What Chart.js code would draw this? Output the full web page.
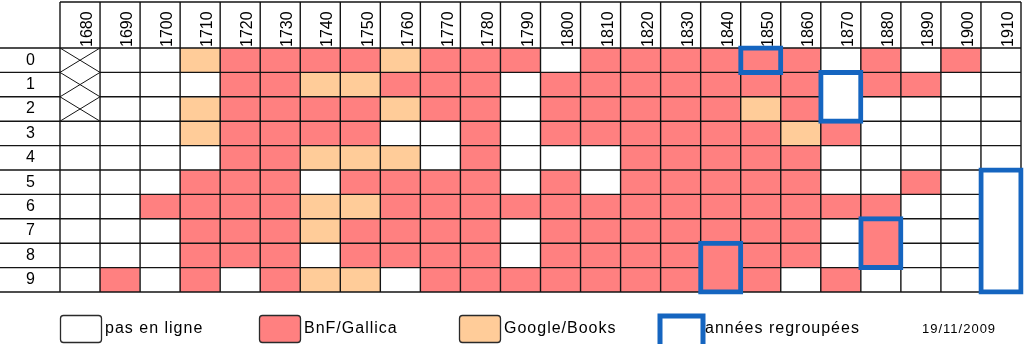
<!DOCTYPE html>
<html>
<head>
<meta charset="utf-8">
<script src="https://cdn.jsdelivr.net/npm/chart.js@4.4.1/dist/chart.umd.min.js"></script>
<style>
  html, body { margin: 0; padding: 0; background: #ffffff; }
  #wrap { width: 1024px; height: 344px; position: relative; }
</style>
</head>
<body>
<div id="wrap"><canvas id="grid"></canvas></div>
<script>
// Decades (columns) and the year digit inside each decade (rows)
const decades = ['1680','1690','1700','1710','1720','1730','1740','1750','1760','1770','1780','1790',
                 '1800','1810','1820','1830','1840','1850','1860','1870','1880','1890','1900','1910'];
const yearDigits = ['0','1','2','3','4','5','6','7','8','9'];

// One string per decade, one letter per year (0..9):
// w = pas en ligne, r = BnF/Gallica, o = Google/Books, x = hors période
const coverage = [
  'xxxwwwwwww', // 1680
  'wwwwwwwwwr', // 1690
  'wwwwwwrwww', // 1700
  'owoowrrrrr', // 1710
  'rrrrrrrrrw', // 1720
  'rrrrrrrrrr', // 1730
  'rorrowoowo', // 1740
  'rorrororro', // 1750
  'oroworrrrw', // 1760
  'rrrwwrrrrr', // 1770
  'rrrrrrrrrr', // 1780
  'rwwwwwrwwr', // 1790
  'wrrrwrrrrr', // 1800
  'rrrrwwrrrr', // 1810
  'rrrrrrrrrr', // 1820
  'rrrrrrrrrr', // 1830
  'rrrrrrrrrr', // 1840
  'rrorrrrrrr', // 1850
  'rrrorrrrrw', // 1860
  'wwwrwwrwwr', // 1870
  'rrwwwwrrrw', // 1880
  'wrwwwrwwww', // 1890
  'rwwwwwwwww', // 1900
  'wwwwwwwwww'  // 1910
];

// Years published together in one issue (années regroupées)
const groupDecades   = ['1840','1850','1870','1880','1910'];
const groupFirstYear = [8, 0, 1, 7, 5];
const groupLastYear  = [9, 0, 2, 8, 9];

const legendLabels = ['pas en ligne', 'BnF/Gallica', 'Google/Books', 'années regroupées'];
const stampText = '19/11/2009';

const COLORS = { w: '#FFFFFF', x: '#FFFFFF', r: '#FF8080', o: '#FFCC99' };
const BLUE = '#1565C0';
const LINE = '#141414';
const FONT = "'Liberation Sans', Arial, Helvetica, sans-serif";

Chart.defaults.font.family = FONT;
Chart.defaults.font.size = 16;
Chart.defaults.color = '#000';

function groupIndex(c) { return groupDecades.indexOf(decades[c]); }
function inSameGroup(c, r1, r2) {
  const g = groupIndex(c);
  return g >= 0 && r1 >= groupFirstYear[g] && r2 <= groupLastYear[g];
}

// one floating-bar dataset per year row
const datasets = yearDigits.map((digit, r) => ({
  label: digit,
  data: decades.map(() => [r, r + 1]),
  backgroundColor: coverage.map(s => COLORS[s[r]]),
  borderWidth: 0,
  grouped: false,
  barPercentage: 1,
  categoryPercentage: 1,
  order: 1
}));

// framed blocks of grouped years, drawn on top
datasets.push({
  label: legendLabels[3],
  data: decades.map((d, c) => {
    const g = groupIndex(c);
    return g < 0 ? null : [groupFirstYear[g], groupLastYear[g] + 1];
  }),
  backgroundColor: decades.map((d, c) => {
    const g = groupIndex(c);
    return g < 0 ? 'rgba(0,0,0,0)' : COLORS[coverage[c][groupFirstYear[g]]];
  }),
  borderColor: BLUE,
  borderWidth: 5,
  borderSkipped: false,
  inflateAmount: 2.5,
  grouped: false,
  barPercentage: 1,
  categoryPercentage: 1,
  clip: false,
  order: 0,
  isGroupFrame: true
});

// table rules: column/row separators, header frame and crossed cells
const tableRules = {
  id: 'tableRules',
  beforeDatasetDraw(chart, args) {
    if (!chart.data.datasets[args.index].isGroupFrame) return;
    const { ctx, chartArea: a, scales } = chart;
    const xs = scales.x, ys = scales.y, rows = scales.rows;
    const n = decades.length;
    const half = (xs.getPixelForValue(1) - xs.getPixelForValue(0)) / 2;
    const edge = i => (i < n ? xs.getPixelForValue(i) - half : xs.getPixelForValue(n - 1) + half);
    const rowY = r => ys.getPixelForValue(r);

    ctx.save();
    ctx.strokeStyle = LINE;
    ctx.lineWidth = 1.4;
    ctx.beginPath();
    // header frame top
    ctx.moveTo(a.left, xs.top);
    ctx.lineTo(a.right, xs.top);
    // vertical separators through header and table
    for (let i = 0; i <= n; i++) {
      ctx.moveTo(edge(i), xs.top);
      ctx.lineTo(edge(i), a.bottom);
    }
    // horizontal separators
    for (let r = 0; r <= yearDigits.length; r++) {
      const y = rowY(r);
      ctx.moveTo(rows.left, y);
      ctx.lineTo(a.left, y);
      for (let c = 0; c < n; c++) {
        if (r > 0 && r < yearDigits.length) {
          if (inSameGroup(c, r - 1, r)) continue;
          if (coverage[c][r - 1] === 'x' && coverage[c][r] === 'x') continue;
        }
        ctx.moveTo(edge(c), y);
        ctx.lineTo(edge(c + 1), y);
      }
    }
    ctx.stroke();

    // crossed cells
    ctx.lineWidth = 1;
    ctx.beginPath();
    for (let c = 0; c < n; c++) {
      for (let r = 0; r < yearDigits.length; r++) {
        if (coverage[c][r] !== 'x') continue;
        const x0 = edge(c), x1 = edge(c + 1), y0 = rowY(r), y1 = rowY(r + 1);
        ctx.moveTo(x0, y0); ctx.lineTo(x1, y1);
        ctx.moveTo(x1, y0); ctx.lineTo(x0, y1);
      }
    }
    ctx.stroke();
    ctx.restore();
  }
};

// key below the table
const tableKey = {
  id: 'tableKey',
  afterDraw(chart) {
    const ctx = chart.ctx;
    const fills = [COLORS.w, COLORS.r, COLORS.o];
    const xs = [60, 259, 459, 658];
    const boxW = 41, boxH = 27, boxY = 315, textY = 329;
    ctx.save();
    for (let i = 0; i < 3; i++) {
      ctx.beginPath();
      ctx.roundRect(xs[i] + 0.5, boxY + 0.5, boxW, boxH, 3);
      ctx.fillStyle = fills[i];
      ctx.fill();
      ctx.lineWidth = 1.3;
      ctx.strokeStyle = '#2a2a2a';
      ctx.stroke();
    }
    // grouped-years key box
    ctx.beginPath();
    ctx.rect(xs[3] + 2, boxY + 1, boxW + 2, boxH + 6);
    ctx.fillStyle = '#fff';
    ctx.fill();
    ctx.lineWidth = 5;
    ctx.strokeStyle = BLUE;
    ctx.stroke();

    ctx.fillStyle = '#000';
    ctx.textBaseline = 'middle';
    ctx.textAlign = 'left';
    ctx.font = '16px ' + FONT;
    ctx.letterSpacing = '1px';
    for (let i = 0; i < 4; i++) {
      ctx.fillText(legendLabels[i], xs[i] + 45 + (i === 3 ? 2 : 0), textY);
    }
    ctx.font = '13px ' + FONT;
    ctx.fillText(stampText, 922, textY);
    ctx.restore();
  }
};

new Chart(document.getElementById('grid'), {
  type: 'bar',
  data: { labels: decades, datasets },
  plugins: [tableRules, tableKey],
  options: {
    responsive: true,
    maintainAspectRatio: false,
    animation: false,
    events: [],
    layout: { padding: { left: 0, right: 3, top: 2, bottom: 52 } },
    plugins: { legend: { display: false }, tooltip: { enabled: false } },
    scales: {
      x: {
        type: 'category',
        position: 'top',
        offset: true,
        grid: { display: false, drawTicks: false },
        border: { display: false },
        ticks: { minRotation: 90, maxRotation: 90, autoSkip: false, padding: 1, labelOffset: 27, color: '#000' },
        afterFit(s) { s.height = 46; }
      },
      y: { type: 'linear', display: false, min: 0, max: 10, reverse: true },
      rows: {
        type: 'category',
        labels: yearDigits,
        position: 'left',
        offset: true,
        min: '0',
        max: '9',
        grid: { display: false, drawTicks: false },
        border: { display: false },
        ticks: { crossAlign: 'center', padding: 25, color: '#000' },
        afterFit(s) { s.width = 60; }
      }
    }
  }
});
</script>
</body>
</html>
